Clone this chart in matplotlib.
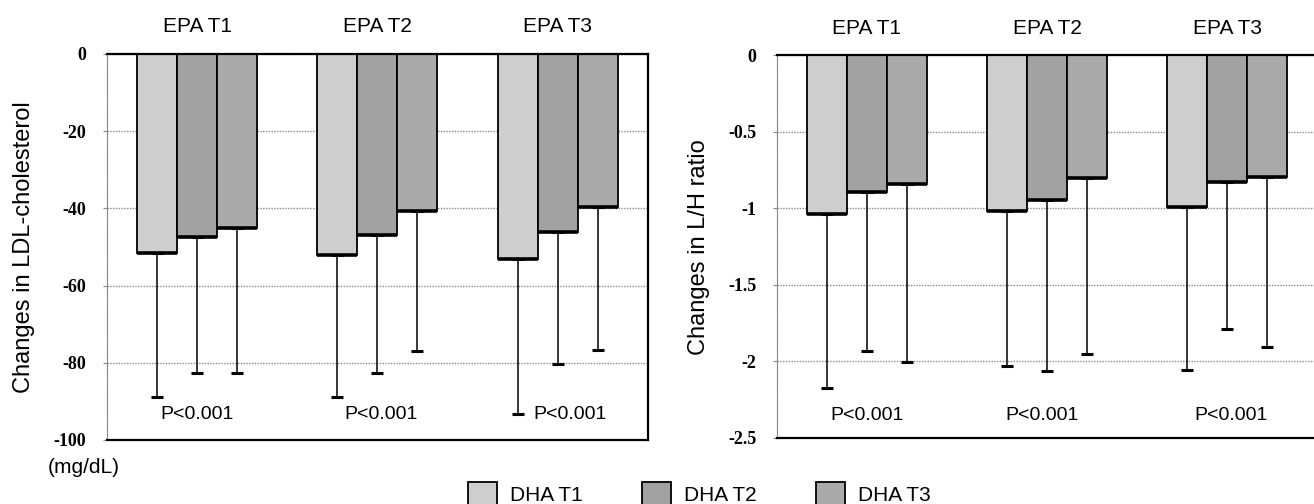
import numpy as np
import matplotlib
matplotlib.use("Agg")
import matplotlib.pyplot as plt
from matplotlib.patches import Patch

# EPA tertile groups (x categories) and DHA tertile series
groups = ["EPA T1", "EPA T2", "EPA T3"]
series = ["DHA T1", "DHA T2", "DHA T3"]
colors = ["#cecece", "#a2a2a2", "#aaaaaa"]

# mean change in LDL-cholesterol (mg/dL), rows = DHA series, cols = EPA groups
ldl_mean = [[-51.5, -52.0, -53.1],
            [-47.4, -46.9, -46.1],
            [-45.0, -40.6, -39.6]]
ldl_sd = [[37.4, 36.8, 40.2],
          [35.2, 35.7, 34.2],
          [37.6, 36.3, 37.1]]

# mean change in L/H ratio
lh_mean = [[-1.035, -1.017, -0.989],
           [-0.893, -0.948, -0.828],
           [-0.843, -0.804, -0.795]]
lh_sd = [[1.137, 1.011, 1.068],
         [1.040, 1.115, 0.962],
         [1.161, 1.146, 1.113]]

p_text = "P<0.001"
ldl_ticks = [0, -20, -40, -60, -80, -100]
lh_ticks = [0, -0.5, -1, -1.5, -2, -2.5]
lh_ticklabels = ["0", "-0.5", "-1", "-1.5", "-2", "-2.5"]

plt.rcParams["font.family"] = ["Liberation Sans", "DejaVu Sans"]

fig = plt.figure(figsize=(13.14, 5.04), dpi=100)
ax1 = fig.add_axes([0.0814, 0.127, 0.4117, 0.766])
ax2 = fig.add_axes([0.5913, 0.131, 0.411, 0.759])

x = np.arange(len(groups))
width = 0.222


def draw_panel(ax, means, sds, ylim, ticks, ticklabels, ylabel, p_y, p_dx, label_x):
    for i in range(len(series)):
        pos = x + (i - 1) * width
        ax.bar(pos, means[i], width, color=colors[i], edgecolor="black",
               linewidth=1.3, zorder=3)
        # darker bottom edge, like the shadowed bars of the original
        ax.hlines(means[i], pos - width / 2, pos + width / 2, color="black",
                  linewidth=2.6, zorder=3.5)
        lower = np.array(sds[i])
        ax.errorbar(pos, means[i], yerr=[lower, np.zeros_like(lower)], fmt="none",
                    ecolor="black", elinewidth=1.1, capsize=4, capthick=2.2, zorder=2)
    ax.set_xlim(-0.5, 2.5)
    ax.set_ylim(*ylim)
    ax.set_yticks(ticks)
    ax.set_yticklabels(ticklabels, family="Liberation Serif", fontweight="bold",
                       fontsize=13)
    ax.set_xticks([])
    ax.yaxis.grid(True, linestyle=(0, (1, 1)), color="#8a8a8a", linewidth=1.0, zorder=0)
    ax.tick_params(axis="y", length=3, color="#888888", pad=12)
    for s in ["top", "bottom", "right"]:
        ax.spines[s].set_linewidth(1.6)
        ax.spines[s].set_zorder(4)
    ax.spines["left"].set_color("#888888")
    ax.spines["left"].set_linestyle((0, (1, 0.5)))
    ax.set_ylabel(ylabel, fontsize=17, va="center")
    ax.yaxis.set_label_coords(label_x, 0.5)
    for gi, g in enumerate(groups):
        ax.text(x[gi], 1.07, g, transform=ax.get_xaxis_transform(), ha="center",
                va="center", fontsize=15)
        ax.text(x[gi] + p_dx[gi], p_y, p_text, ha="center", va="center",
                fontsize=14, zorder=5)


draw_panel(ax1, ldl_mean, ldl_sd, (-100, 0), ldl_ticks,
           [str(t) for t in ldl_ticks], "Changes in LDL-cholesterol", -93.5,
           [0.0, 0.02, 0.07], -0.153)
draw_panel(ax2, lh_mean, lh_sd, (-2.5, 0), lh_ticks, lh_ticklabels,
           "Changes in L/H ratio", -2.35, [0.0, -0.03, 0.02], -0.144)

fig.text(0.0365, 0.073, "(mg/dL)", ha="left", va="center", fontsize=15)

handles = [Patch(facecolor=colors[i], edgecolor="black", linewidth=1.3) for i in range(3)]
fig.legend(handles, series, loc="center", bbox_to_anchor=(0.532, 0.02), ncol=3,
           frameon=False, fontsize=15, handlelength=1.4, handleheight=1.4,
           handletextpad=0.62, columnspacing=2.84)

fig.savefig("out.png", dpi=100)
